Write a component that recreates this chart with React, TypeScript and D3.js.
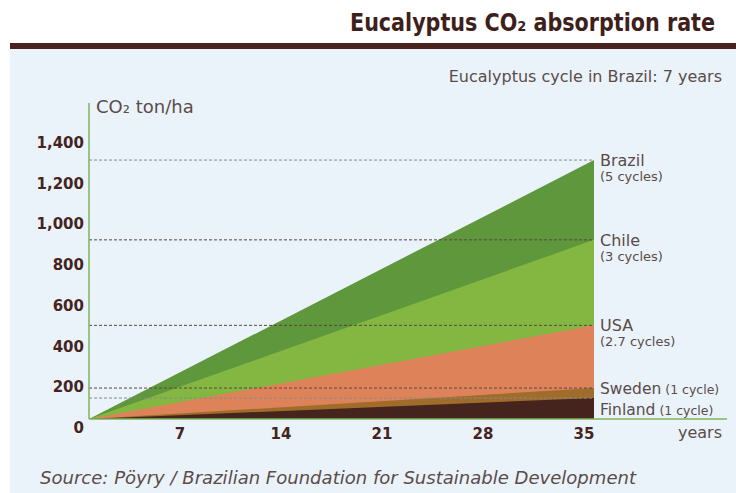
import { useEffect } from 'react';
import * as d3 from 'd3';

// Top of each wedge after 35 years (ton CO2/ha)
const countries = ['Brazil', 'Chile', 'USA', 'Sweden', 'Finland'];
const cycles = ['(5 cycles)', '(3 cycles)', '(2.7 cycles)', '(1 cycle)', '(1 cycle)'];
const years = [0, 35];
const absorbed = [
  [0, 1272],
  [0, 880],
  [0, 460],
  [0, 152],
  [0, 103],
];
const yTicks = [0, 200, 400, 600, 800, 1000, 1200, 1400];
const xTicks = [7, 14, 21, 28, 35];

const FILLS = ['#5f973c', '#84b642', '#de8359', '#a06c2c', '#45241e'];
const DASH = ['#8c8888', '#5e4442', '#5e4442', '#5e4442', '#8c8888'];
const INK = '#5b4b49';
const DARK = '#45241f';
const FONT = '"DejaVu Sans", Verdana, sans-serif';
const NARROW = '"DejaVu Sans Condensed", "Liberation Sans Narrow", sans-serif';

export default function App() {
  useEffect(() => {
    document.body.style.margin = '0';
  }, []);

  const x = d3.scaleLinear().domain([0, 35]).range([89, 594]);
  const y = d3.scaleLinear().domain([0, 1400]).range([419, 134]);

  const area = d3.area<number>()
    .x((_, i) => x(years[i]))
    .y0(y(0))
    .y1(d => y(d));

  // label baselines, pushed down if they would overlap the one above
  const labelY: number[] = [];
  countries.forEach((_, i) => {
    const want = y(absorbed[i][1]) + 6;
    labelY.push(i > 0 ? Math.max(want, labelY[i - 1] + 21) : want);
  });

  return (
    <svg width={736} height={493} style={{ display: 'block', fontFamily: FONT }}>
      <rect x={0} y={0} width={736} height={493} fill="#ffffff" />
      {/* title */}
      <text x={715} y={31} textAnchor="end" fill="#3f1f1b" fontSize={24} fontWeight="bold"
        fontFamily={NARROW} textLength={365} lengthAdjust="spacingAndGlyphs">
        Eucalyptus CO₂ absorption rate
      </text>
      <rect x={10} y={43} width={726} height={6} fill="#4a221d" />
      <rect x={10} y={49} width={726} height={444} fill="#eaf3f9" />

      <text x={722} y={82} textAnchor="end" fill={INK} fontSize={16}>
        Eucalyptus cycle in Brazil: 7 years
      </text>

      {/* wedges, largest first */}
      {absorbed.map((s, i) => (
        <path key={countries[i]} d={area(s) || ''} fill={FILLS[i]} />
      ))}

      {/* dashed value lines */}
      {absorbed.map((s, i) => (
        <line key={'d' + i} x1={x(0)} x2={x(35)} y1={y(s[1])} y2={y(s[1])}
          stroke={DASH[i]} strokeWidth={1} strokeDasharray="3,2" />
      ))}

      {/* axes */}
      <line x1={x(0)} x2={x(0)} y1={103} y2={y(0)} stroke="#7db35b" strokeWidth={1.5} />
      <line x1={x(0)} x2={727} y1={y(0)} y2={y(0)} stroke="#7db35b" strokeWidth={1.5} />

      <text x={96} y={113} fill={INK} fontSize={18}>CO₂ ton/ha</text>

      {yTicks.map(t => (
        <text key={t} x={84} y={y(t) + 14} textAnchor="end" fill={DARK} fontSize={15} fontWeight="bold">
          {d3.format(',')(t)}
        </text>
      ))}
      {xTicks.map(t => (
        <text key={t} x={x(t) - 10} y={y(0) + 20} textAnchor="middle" fill={DARK} fontSize={15} fontWeight="bold">
          {t}
        </text>
      ))}
      <text x={722} y={438} textAnchor="end" fill={INK} fontSize={16}>years</text>

      {/* country labels */}
      {countries.map((c, i) => {
        const twoLine = i < 3;
        return twoLine ? (
          <g key={c}>
            <text x={600} y={labelY[i]} fill={INK} fontSize={16}>{c}</text>
            <text x={600} y={labelY[i] + 15} fill={INK} fontSize={13}>{cycles[i]}</text>
          </g>
        ) : (
          <text key={c} x={600} y={labelY[i]} fill={INK} fontSize={15.5}>
            {c}<tspan fontSize={12.5}> {cycles[i]}</tspan>
          </text>
        );
      })}

      <text x={40} y={484} fill={INK} fontSize={18} fontStyle="italic"
        fontFamily={NARROW} textLength={596} lengthAdjust="spacingAndGlyphs">
        Source: Pöyry / Brazilian Foundation for Sustainable Development
      </text>
    </svg>
  );
}
